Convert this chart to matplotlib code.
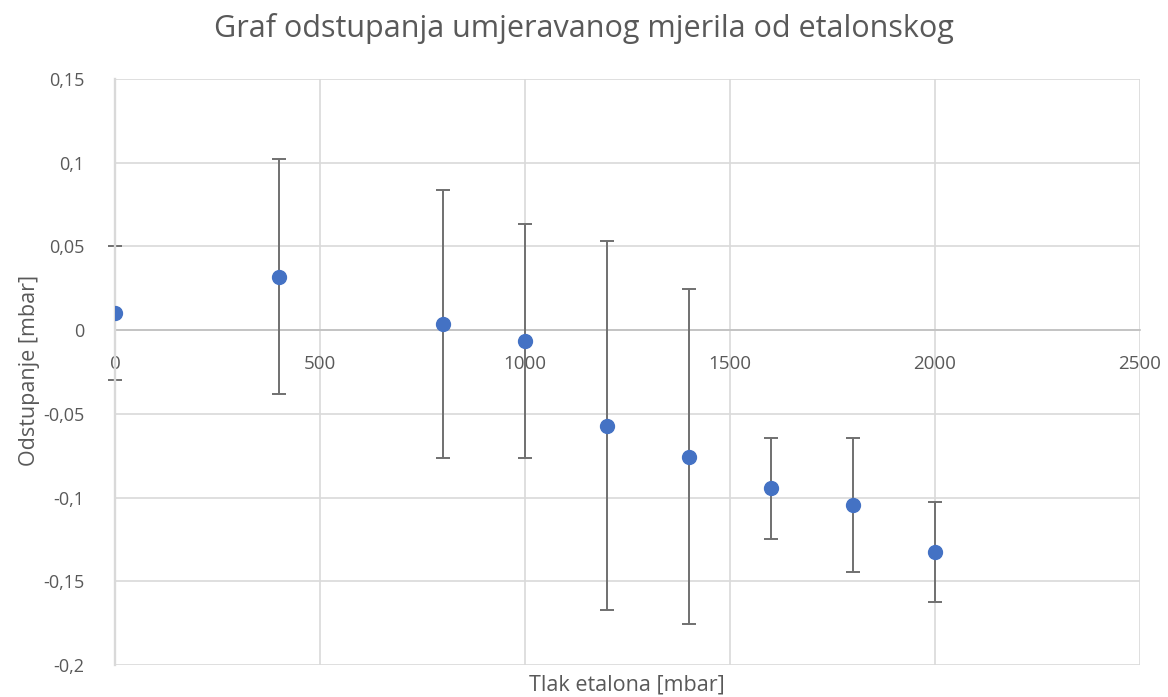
import matplotlib.pyplot as plt
from matplotlib.ticker import FuncFormatter, MultipleLocator

# data
tlak = [0, 400, 800, 1000, 1200, 1400, 1600, 1800, 2000]
odstupanje = [0.010, 0.032, 0.0035, -0.0065, -0.057, -0.0755, -0.0945, -0.1045, -0.1325]
nesigurnost = [0.04, 0.07, 0.08, 0.07, 0.11, 0.10, 0.03, 0.04, 0.03]

txt_color = "#595959"
grid_color = "#d9d9d9"

plt.rcParams['font.family'] = ['Open Sans', 'DejaVu Sans']

fig = plt.figure(figsize=(11.68, 6.97), dpi=100)
ax = fig.add_axes([115 / 1168, 32 / 697, 1025 / 1168, 586 / 697])

markers, caps, bars = ax.errorbar(tlak, odstupanje, yerr=nesigurnost, fmt='o',
                                  color='#4472C4', markersize=10, ecolor='#707070',
                                  elinewidth=1.4, capsize=5, capthick=1.4)
markers.set_zorder(6)
for b in bars:
    b.set_zorder(3)
for c in caps:
    c.set_zorder(3)
    c.set_clip_on(False)

ax.set_xlim(0, 2500)
ax.set_ylim(-0.2, 0.15)
ax.xaxis.set_major_locator(MultipleLocator(500))
ax.yaxis.set_major_locator(MultipleLocator(0.05))


def comma_fmt(v, pos):
    s = f"{v:.2f}".rstrip('0').rstrip('.')
    if s in ("-0", ""):
        s = "0"
    return s.replace('.', ',')


ax.yaxis.set_major_formatter(FuncFormatter(comma_fmt))
ax.xaxis.set_major_formatter(FuncFormatter(lambda v, p: f"{int(v)}"))

ax.grid(True, color=grid_color, linewidth=1.2, zorder=0)
ax.set_axisbelow(True)

for s in ['top', 'right']:
    ax.spines[s].set_visible(False)
# left axis line sits on top of the first error bar, as in the original
ax.spines['left'].set_color(grid_color)
ax.spines['left'].set_linewidth(1.7)
ax.spines['left'].set_zorder(5)
ax.spines['bottom'].set_position(('data', 0))
ax.spines['bottom'].set_color('#bfbfbf')
ax.spines['bottom'].set_linewidth(1.2)

ax.tick_params(axis='both', length=0, labelcolor=txt_color)
ax.tick_params(axis='x', pad=18, labelsize=13.5)
ax.tick_params(axis='y', pad=22, labelsize=13)

fig.text(584 / 1168, 1 - 28 / 697, "Graf odstupanja umjeravanog mjerila od etalonskog",
         ha='center', va='center', fontsize=22, color=txt_color)
fig.text(627 / 1168, 1 - 685 / 697, "Tlak etalona [mbar]",
         ha='center', va='center', fontsize=15.5, color=txt_color)
fig.text(30 / 1168, 1 - 370 / 697, "Odstupanje [mbar]", rotation=90,
         ha='center', va='center', fontsize=15.5, color=txt_color)

fig.savefig("out.png", dpi=100, facecolor='white')
